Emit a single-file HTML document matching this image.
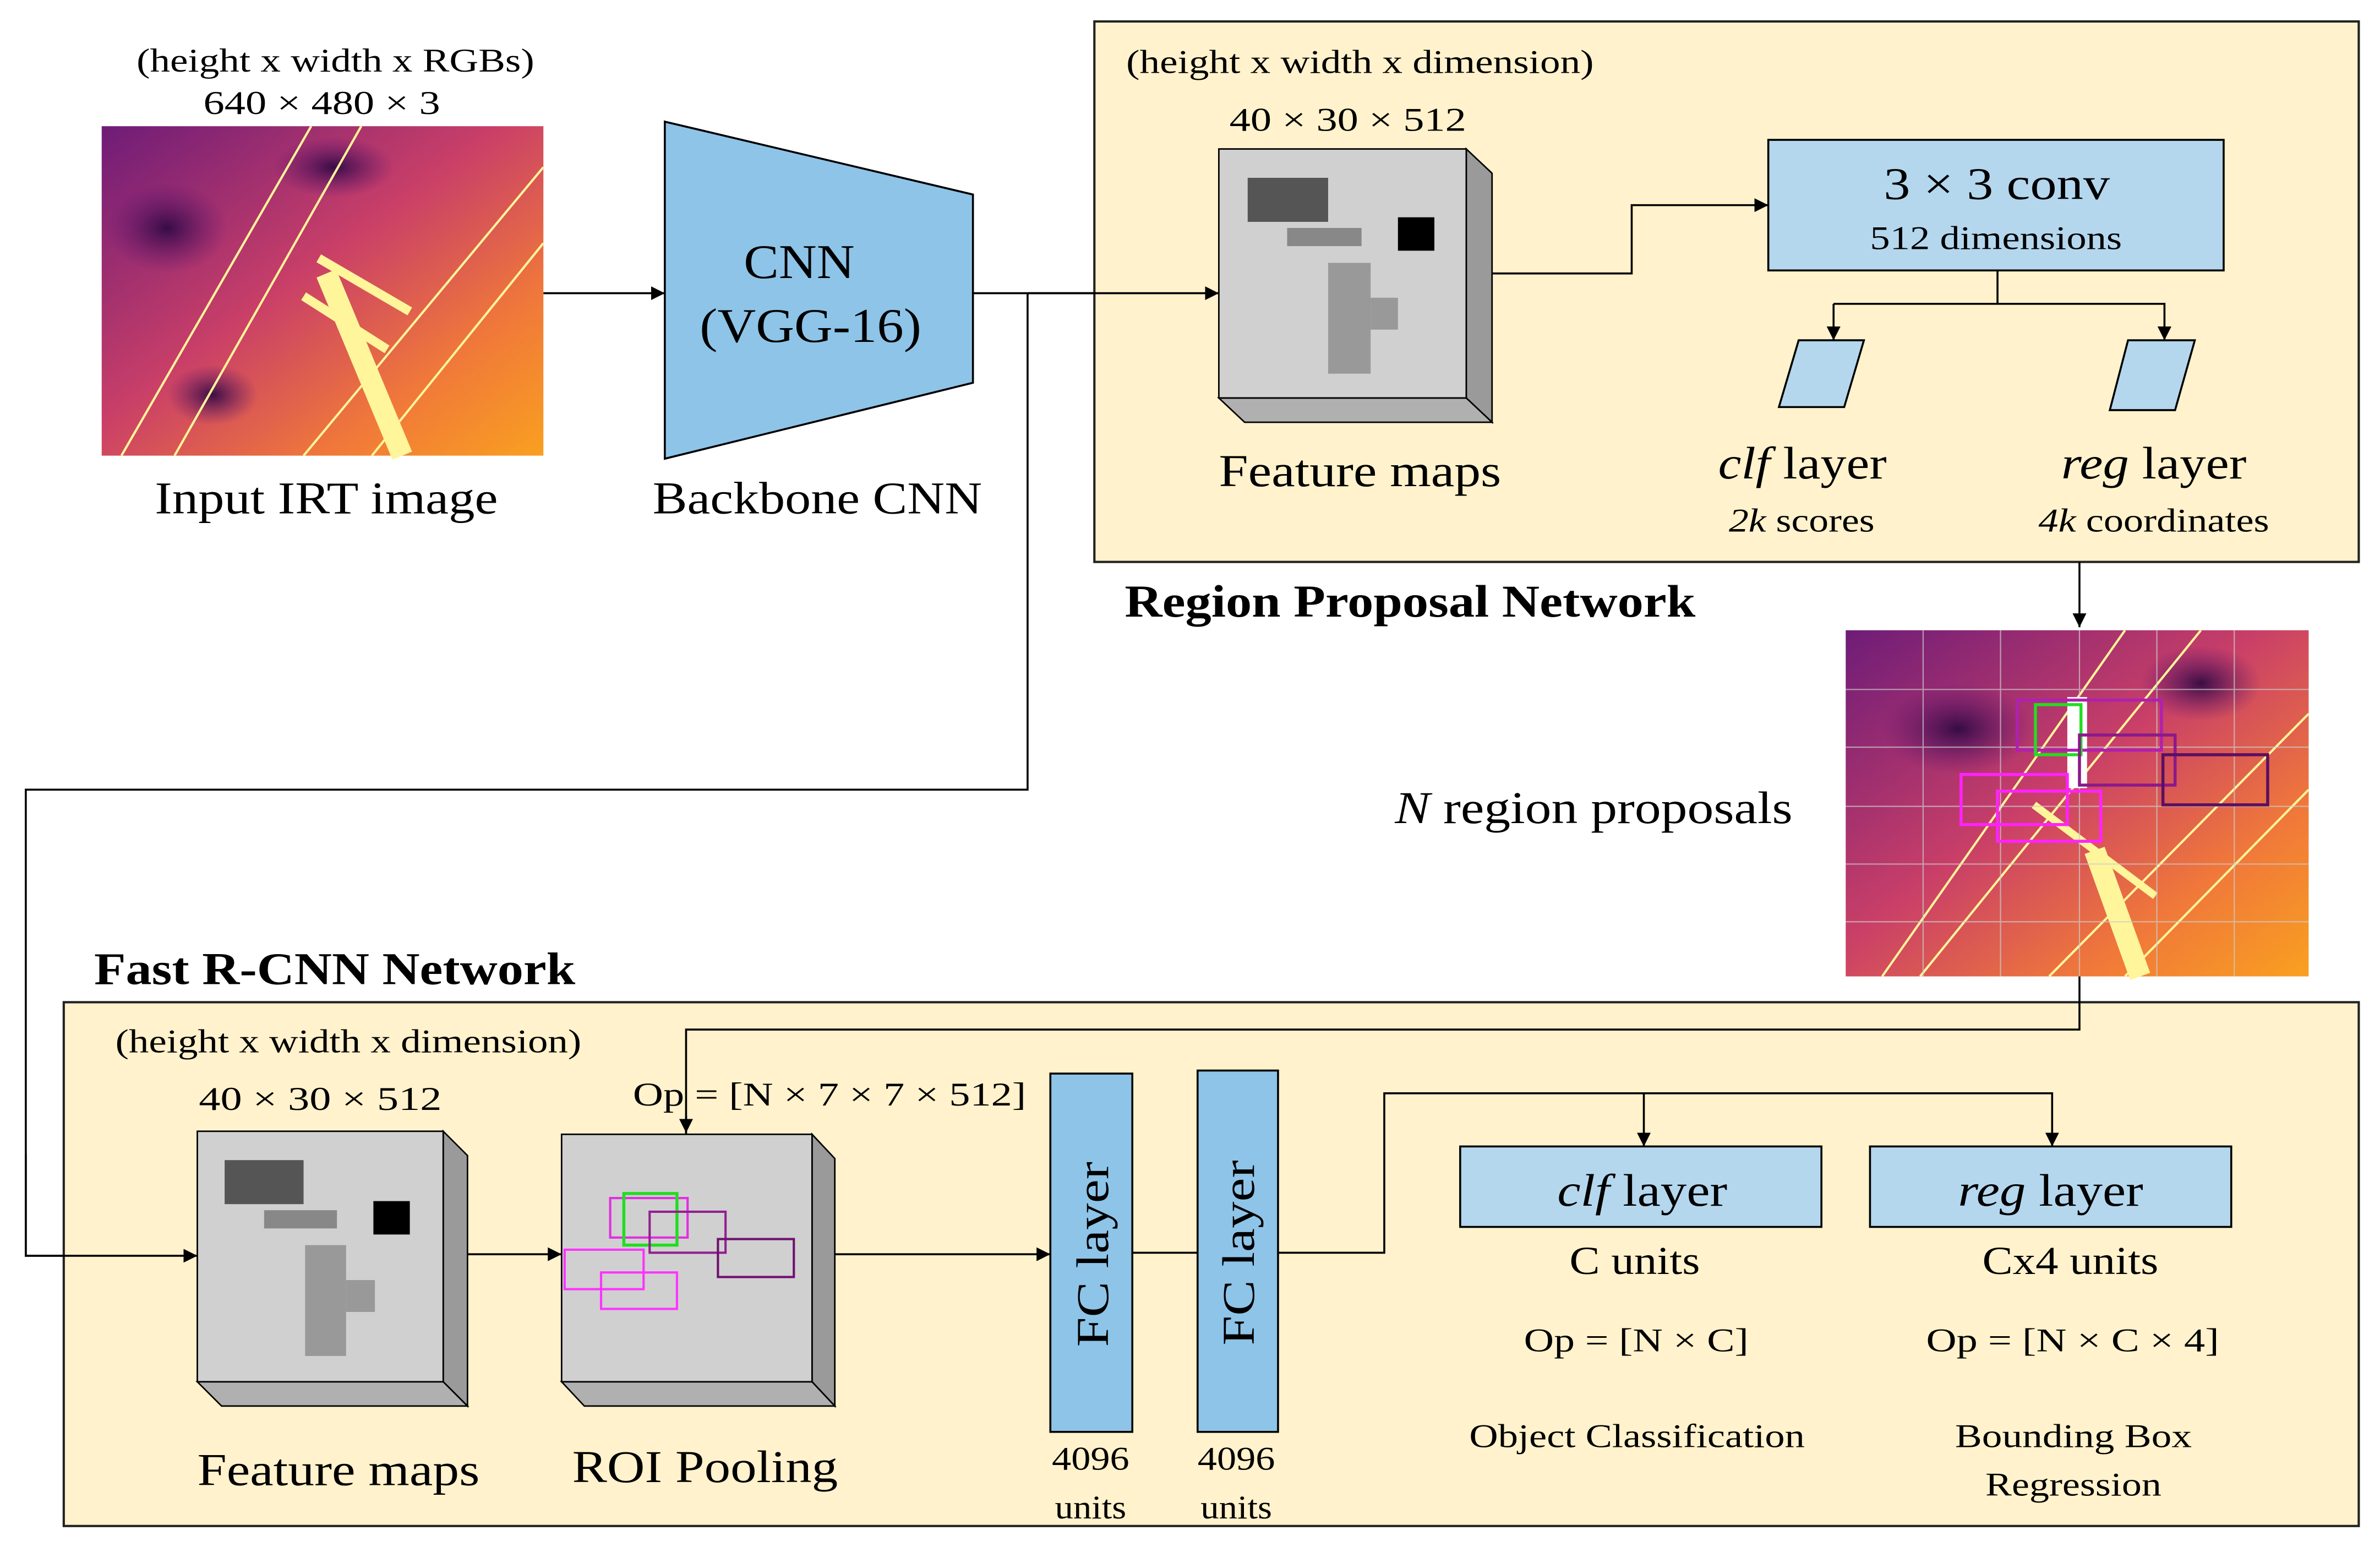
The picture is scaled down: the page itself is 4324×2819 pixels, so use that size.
<!DOCTYPE html>
<html><head><meta charset="utf-8"><style>html,body{margin:0;padding:0;background:#fff}svg{display:block}</style></head>
<body>
<svg xmlns="http://www.w3.org/2000/svg" width="4324" height="2819" viewBox="0 0 1568 1022" font-family="'Liberation Serif',serif" fill="#000">
<defs>
<marker id="a" viewBox="0 0 10 10" refX="10" refY="5" markerWidth="7" markerHeight="7" orient="auto"><path d="M0,0L10,5L0,10z" fill="#000"/></marker>
<linearGradient id="th" x1="0" y1="0" x2="1" y2="1"><stop offset="0" stop-color="#6e1c78"/><stop offset="0.45" stop-color="#c93f68"/><stop offset="0.75" stop-color="#f0783a"/><stop offset="1" stop-color="#f9a020"/></linearGradient>
<radialGradient id="dk"><stop offset="0" stop-color="#2a0840" stop-opacity="0.9"/><stop offset="1" stop-color="#5a1470" stop-opacity="0"/></radialGradient>
</defs>
<g stroke="#000" stroke-width="1.3" fill="none">
<line x1="358" y1="193" x2="438" y2="193" marker-end="url(#a)"/>
<line x1="641" y1="193" x2="803" y2="193" marker-end="url(#a)"/>
<polyline points="677,193 677,520 17,520 17,827 130,827" marker-end="url(#a)"/>
</g>
<rect x="67" y="83" width="291" height="217" fill="url(#th)"/>
<ellipse cx="110" cy="150" rx="40" ry="30" fill="url(#dk)"/>
<ellipse cx="220" cy="110" rx="40" ry="20" fill="url(#dk)"/>
<ellipse cx="140" cy="260" rx="30" ry="20" fill="url(#dk)"/>
<g stroke="#fff59a" fill="none"><line x1="80" y1="300" x2="205" y2="83" stroke-width="1.5"/><line x1="115" y1="300" x2="238" y2="83" stroke-width="1.5"/><line x1="200" y1="300" x2="358" y2="110" stroke-width="1.5"/><line x1="245" y1="300" x2="358" y2="160" stroke-width="1.5"/><line x1="210" y1="170" x2="270" y2="205" stroke-width="6"/><line x1="200" y1="195" x2="255" y2="230" stroke-width="6"/><line x1="215" y1="180" x2="265" y2="300" stroke-width="14"/></g>
<text x="90" y="47" font-size="22" textLength="262" lengthAdjust="spacingAndGlyphs">(height x width x RGBs)</text>
<text x="134" y="75" font-size="22" textLength="156" lengthAdjust="spacingAndGlyphs">640 × 480 × 3</text>
<text x="102" y="338" font-size="30" textLength="226" lengthAdjust="spacingAndGlyphs">Input IRT image</text>
<polygon points="438,80 641,128 641,252 438,302" fill="#8ec4e8" stroke="#000" stroke-width="1.3"/>
<text x="490" y="183" font-size="32" textLength="73" lengthAdjust="spacingAndGlyphs">CNN</text>
<text x="461" y="225" font-size="32" textLength="146" lengthAdjust="spacingAndGlyphs">(VGG-16)</text>
<text x="430" y="338" font-size="30" textLength="217" lengthAdjust="spacingAndGlyphs">Backbone CNN</text>
<rect x="721" y="14" width="833" height="356" fill="#fff2cc" stroke="#222" stroke-width="1.5"/>
<g stroke="#000" stroke-width="1.3" fill="none"><line x1="677" y1="193" x2="803" y2="193" marker-end="url(#a)"/></g>
<text x="742" y="48" font-size="22" textLength="308" lengthAdjust="spacingAndGlyphs">(height x width x dimension)</text>
<text x="810" y="86" font-size="22" textLength="156" lengthAdjust="spacingAndGlyphs">40 × 30 × 512</text>
<g stroke="#000" stroke-width="1">
<polygon points="966,98 983,114 983,278 966,262" fill="#9a9a9a"/>
<polygon points="803,262 966,262 983,278 820,278" fill="#b0b0b0"/>
<rect x="803" y="98" width="163" height="164" fill="#d0d0d0"/>
</g>
<rect x="822" y="117" width="53" height="29" fill="#555"/><rect x="848" y="150" width="49" height="12" fill="#888"/><rect x="921" y="143" width="24" height="22" fill="#000"/><rect x="875" y="173" width="28" height="73" fill="#999"/><rect x="903" y="196" width="18" height="21" fill="#999"/>
<text x="803" y="320" font-size="30" textLength="186" lengthAdjust="spacingAndGlyphs">Feature maps</text>
<g stroke="#000" stroke-width="1.3" fill="none">
<polyline points="983,180 1075,180 1075,135 1165,135" marker-end="url(#a)"/>
<polyline points="1316,178 1316,200"/>
<polyline points="1208,200 1208,224" marker-end="url(#a)"/><polyline points="1208,200 1426,200 1426,224" marker-end="url(#a)"/>
<polyline points="1370,370 1370,413" marker-end="url(#a)"/>
</g>
<rect x="1165" y="92" width="300" height="86" fill="#b4d7ee" stroke="#000" stroke-width="1.3"/>
<text x="1241" y="131" font-size="30" textLength="149" lengthAdjust="spacingAndGlyphs">3 × 3 conv</text>
<text x="1232" y="164" font-size="22" textLength="166" lengthAdjust="spacingAndGlyphs">512 dimensions</text>
<polygon points="1185,224 1228,224 1215,268 1172,268" fill="#b4d7ee" stroke="#000" stroke-width="1.3"/>
<polygon points="1402,224 1446,224 1433,270 1390,270" fill="#b4d7ee" stroke="#000" stroke-width="1.3"/>
<text x="1132" y="315" font-size="30" textLength="111" lengthAdjust="spacingAndGlyphs"><tspan font-style="italic">clf</tspan> layer</text>
<text x="1139" y="350" font-size="22" textLength="96" lengthAdjust="spacingAndGlyphs"><tspan font-style="italic">2k</tspan> scores</text>
<text x="1358" y="315" font-size="30" textLength="122" lengthAdjust="spacingAndGlyphs"><tspan font-style="italic">reg</tspan> layer</text>
<text x="1343" y="350" font-size="22" textLength="152" lengthAdjust="spacingAndGlyphs"><tspan font-style="italic">4k</tspan> coordinates</text>
<text x="741" y="406" font-size="30" font-weight="bold" textLength="376" lengthAdjust="spacingAndGlyphs">Region Proposal Network</text>
<rect x="1216" y="415" width="305" height="228" fill="url(#th)"/>
<ellipse cx="1290" cy="480" rx="50" ry="30" fill="url(#dk)"/>
<ellipse cx="1450" cy="450" rx="40" ry="25" fill="url(#dk)"/>
<g stroke="#fff59a" fill="none" stroke-width="1.5"><line x1="1240" y1="643" x2="1400" y2="415"/><line x1="1265" y1="643" x2="1450" y2="415"/><line x1="1350" y1="643" x2="1521" y2="470"/><line x1="1400" y1="643" x2="1521" y2="520"/><line x1="1380" y1="560" x2="1410" y2="643" stroke-width="14"/><line x1="1340" y1="530" x2="1420" y2="590" stroke-width="5"/></g>
<g stroke="#ccc" stroke-width="0.8" opacity="0.7"><line x1="1267" y1="415" x2="1267" y2="643"/><line x1="1318" y1="415" x2="1318" y2="643"/><line x1="1370" y1="415" x2="1370" y2="643"/><line x1="1421" y1="415" x2="1421" y2="643"/><line x1="1472" y1="415" x2="1472" y2="643"/><line x1="1216" y1="454" x2="1521" y2="454"/><line x1="1216" y1="492" x2="1521" y2="492"/><line x1="1216" y1="531" x2="1521" y2="531"/><line x1="1216" y1="569" x2="1521" y2="569"/><line x1="1216" y1="607" x2="1521" y2="607"/></g>
<rect x="1362" y="459" width="13" height="60" fill="#fff"/>
<g fill="none" stroke-width="2"><rect x="1329" y="461" width="95" height="33" stroke="#b020b0"/><rect x="1341" y="464" width="30" height="33" stroke="#22dd22"/><rect x="1370" y="484" width="63" height="33" stroke="#8a1a8a"/><rect x="1425" y="497" width="69" height="33" stroke="#5a1060"/><rect x="1292" y="510" width="70" height="33" stroke="#ff22ff"/><rect x="1316" y="521" width="68" height="33" stroke="#ff22ff"/></g>
<text x="919" y="542" font-size="30" textLength="262" lengthAdjust="spacingAndGlyphs"><tspan font-style="italic">N</tspan> region proposals</text>
<text x="62" y="648" font-size="30" font-weight="bold" textLength="317" lengthAdjust="spacingAndGlyphs">Fast R-CNN Network</text>
<rect x="42" y="660" width="1512" height="345" fill="#fff2cc" stroke="#222" stroke-width="1.5"/>
<g stroke="#000" stroke-width="1.3" fill="none">
<polyline points="1370,643 1370,678 452,678 452,746" marker-end="url(#a)"/>
<polyline points="17,760 17,827 130,827" marker-end="url(#a)"/>
<line x1="308" y1="826" x2="370" y2="826" marker-end="url(#a)"/>
<line x1="550" y1="826" x2="692" y2="826" marker-end="url(#a)"/>
<line x1="746" y1="825" x2="789" y2="825"/>
<polyline points="842,825 912,825 912,720 1352,720 1352,755" marker-end="url(#a)"/>
<polyline points="1083,720 1083,755" marker-end="url(#a)"/>
</g>
<text x="76" y="693" font-size="22" textLength="307" lengthAdjust="spacingAndGlyphs">(height x width x dimension)</text>
<text x="131" y="731" font-size="22" textLength="160" lengthAdjust="spacingAndGlyphs">40 × 30 × 512</text>
<g stroke="#000" stroke-width="1">
<polygon points="292,745 308,761 308,926 292,910" fill="#9a9a9a"/>
<polygon points="130,910 292,910 308,926 146,926" fill="#b0b0b0"/>
<rect x="130" y="745" width="162" height="165" fill="#d0d0d0"/>
<polygon points="535,747 550,763 550,926 535,910" fill="#9a9a9a"/>
<polygon points="370,910 535,910 550,926 385,926" fill="#b0b0b0"/>
<rect x="370" y="747" width="165" height="163" fill="#d0d0d0"/>
</g>
<line x1="452" y1="735" x2="452" y2="747" stroke="#000" stroke-width="1.3"/>
<rect x="148" y="764" width="52" height="29" fill="#555"/><rect x="174" y="797" width="48" height="12" fill="#888"/><rect x="246" y="791" width="24" height="22" fill="#000"/><rect x="201" y="820" width="27" height="73" fill="#999"/><rect x="228" y="843" width="19" height="21" fill="#999"/>
<g fill="none" stroke-width="1.5"><rect x="402" y="789" width="51" height="26" stroke="#e030e0"/><rect x="411" y="786" width="35" height="34" stroke="#22dd22" stroke-width="2"/><rect x="428" y="798" width="50" height="27" stroke="#902090"/><rect x="473" y="816" width="50" height="25" stroke="#701070"/><rect x="372" y="823" width="52" height="26" stroke="#ff33ff"/><rect x="396" y="838" width="50" height="24" stroke="#ff33ff"/></g>
<text x="130" y="978" font-size="30" textLength="186" lengthAdjust="spacingAndGlyphs">Feature maps</text>
<text x="377" y="976" font-size="30" textLength="175" lengthAdjust="spacingAndGlyphs">ROI Pooling</text>
<text x="417" y="728" font-size="22" textLength="259" lengthAdjust="spacingAndGlyphs">Op = [N × 7 × 7 × 512]</text>
<rect x="692" y="707" width="54" height="236" fill="#8ec4e8" stroke="#000" stroke-width="1.3"/>
<rect x="789" y="705" width="53" height="238" fill="#8ec4e8" stroke="#000" stroke-width="1.3"/>
<text transform="translate(730,887) rotate(-90)" font-size="30" textLength="122" lengthAdjust="spacingAndGlyphs">FC layer</text>
<text transform="translate(826,886) rotate(-90)" font-size="30" textLength="122" lengthAdjust="spacingAndGlyphs">FC layer</text>
<text x="693" y="968" font-size="22" textLength="51" lengthAdjust="spacingAndGlyphs">4096</text><text x="695" y="1000" font-size="22" textLength="47" lengthAdjust="spacingAndGlyphs">units</text>
<text x="789" y="968" font-size="22" textLength="51" lengthAdjust="spacingAndGlyphs">4096</text><text x="791" y="1000" font-size="22" textLength="47" lengthAdjust="spacingAndGlyphs">units</text>
<rect x="962" y="755" width="238" height="53" fill="#b4d7ee" stroke="#000" stroke-width="1.3"/>
<rect x="1232" y="755" width="238" height="53" fill="#b4d7ee" stroke="#000" stroke-width="1.3"/>
<text x="1026" y="794" font-size="30" textLength="112" lengthAdjust="spacingAndGlyphs"><tspan font-style="italic">clf</tspan> layer</text>
<text x="1290" y="794" font-size="30" textLength="122" lengthAdjust="spacingAndGlyphs"><tspan font-style="italic">reg</tspan> layer</text>
<text x="1034" y="839" font-size="26" textLength="86" lengthAdjust="spacingAndGlyphs">C units</text>
<text x="1306" y="839" font-size="26" textLength="116" lengthAdjust="spacingAndGlyphs">Cx4 units</text>
<text x="1004" y="890" font-size="22" textLength="148" lengthAdjust="spacingAndGlyphs">Op = [N × C]</text>
<text x="1269" y="890" font-size="22" textLength="193" lengthAdjust="spacingAndGlyphs">Op = [N × C × 4]</text>
<text x="968" y="953" font-size="22" textLength="221" lengthAdjust="spacingAndGlyphs">Object Classification</text>
<text x="1288" y="953" font-size="22" textLength="156" lengthAdjust="spacingAndGlyphs">Bounding Box</text>
<text x="1308" y="985" font-size="22" textLength="116" lengthAdjust="spacingAndGlyphs">Regression</text>
</svg>
</body></html>
